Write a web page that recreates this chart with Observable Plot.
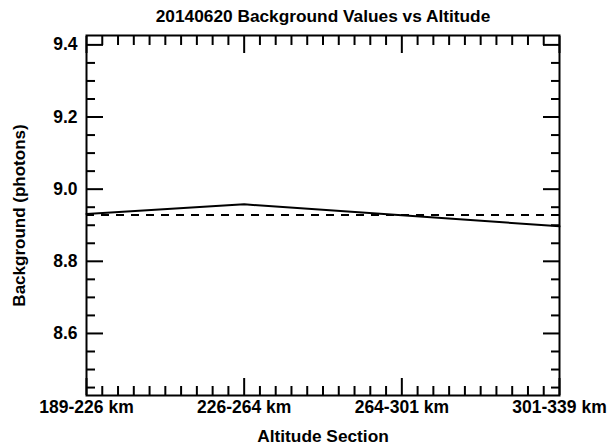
<!DOCTYPE html>
<html>
<head>
<meta charset="utf-8">
<script src="https://cdn.jsdelivr.net/npm/d3@7"></script>
<script src="https://cdn.jsdelivr.net/npm/@observablehq/plot@0.6"></script>
<style>
  html, body { margin: 0; padding: 0; background: #fff; }
</style>
</head>
<body>
<div id="chart"></div>
<script>
// Background counts per altitude section for 2014-06-20
const altitudeSections = ["189-226 km", "226-264 km", "264-301 km", "301-339 km"];
const backgroundValues = [8.931, 8.958, 8.928, 8.897];

const titleText = "20140620 Background Values vs Altitude";
const xLabel = "Altitude Section";
const yLabel = "Background (photons)";

// y axis tick values
const yMajorTicks = [8.6, 8.8, 9.0, 9.2, 9.4];
const yDomain = [8.428, 9.426];

const rows = altitudeSections.map((section, i) => ({i, section, value: backgroundValues[i]}));
const meanValue = d3.mean(backgroundValues);

const xMajor = altitudeSections.map((_, i) => i);
const xMinor = d3.range(0, (altitudeSections.length - 1) * 10 + 1).map(k => k / 10).filter(v => !xMajor.includes(v));
const yMinor = d3.range(Math.ceil(yDomain[0] * 20), Math.floor(yDomain[1] * 20) + 1)
  .map(k => k / 20)
  .filter(v => !yMajorTicks.some(t => Math.abs(t - v) < 1e-9));

const font = "'Liberation Sans', Arial, Helvetica, sans-serif";
const tickW = 2;

const chart = Plot.plot({
  width: 607,
  height: 446,
  marginLeft: 86,
  marginRight: 48,
  marginTop: 35,
  marginBottom: 51,
  style: {fontFamily: font, fontSize: "17.5px", fontWeight: "bold", background: "#fff", color: "#000"},
  x: {type: "linear", domain: [0, altitudeSections.length - 1]},
  y: {domain: yDomain},
  marks: [
    // inward-pointing ticks on all four sides
    Plot.axisX(xMinor, {anchor: "bottom", tickSize: -9, strokeWidth: tickW, fill: "none", label: null}),
    Plot.axisX(xMajor, {anchor: "bottom", tickSize: -17, strokeWidth: tickW, fill: "none", label: null}),
    Plot.axisX(xMinor, {anchor: "top", tickSize: -9, strokeWidth: tickW, fill: "none", label: null}),
    Plot.axisX(xMajor, {anchor: "top", tickSize: -17, strokeWidth: tickW, fill: "none", label: null}),
    Plot.axisY(yMinor, {anchor: "left", tickSize: -9, strokeWidth: tickW, fill: "none", label: null}),
    Plot.axisY(yMajorTicks, {anchor: "left", tickSize: -17, strokeWidth: tickW, fill: "none", label: null}),
    Plot.axisY(yMinor, {anchor: "right", tickSize: -9, strokeWidth: tickW, fill: "none", label: null}),
    Plot.axisY(yMajorTicks, {anchor: "right", tickSize: -17, strokeWidth: tickW, fill: "none", label: null}),
    // tick labels
    Plot.axisX(xMajor, {anchor: "bottom", tickSize: 0, tickPadding: 5, tickFormat: i => altitudeSections[i], label: null}),
    Plot.axisY(yMajorTicks, {anchor: "left", tickSize: 0, tickPadding: 9, tickFormat: d3.format(".1f"), label: null}),
    Plot.frame({strokeWidth: 2}),
    // mean level
    Plot.ruleY([meanValue], {strokeWidth: 2, strokeDasharray: "8,7"}),
    Plot.line(rows, {x: "i", y: "value", strokeWidth: 2}),
    // titles
    Plot.text([titleText], {frameAnchor: "top", dy: -19, lineAnchor: "middle", textAnchor: "middle", fontSize: 17.3, fontWeight: "bold"}),
    Plot.text([xLabel], {frameAnchor: "bottom", dy: 41, lineAnchor: "middle", textAnchor: "middle", fontSize: 17.3, fontWeight: "bold"}),
    Plot.text([yLabel], {frameAnchor: "left", dx: -67, rotate: -90, lineAnchor: "middle", textAnchor: "middle", fontSize: 17, fontWeight: "bold"})
  ]
});

document.getElementById("chart").appendChild(chart);
</script>
</body>
</html>
